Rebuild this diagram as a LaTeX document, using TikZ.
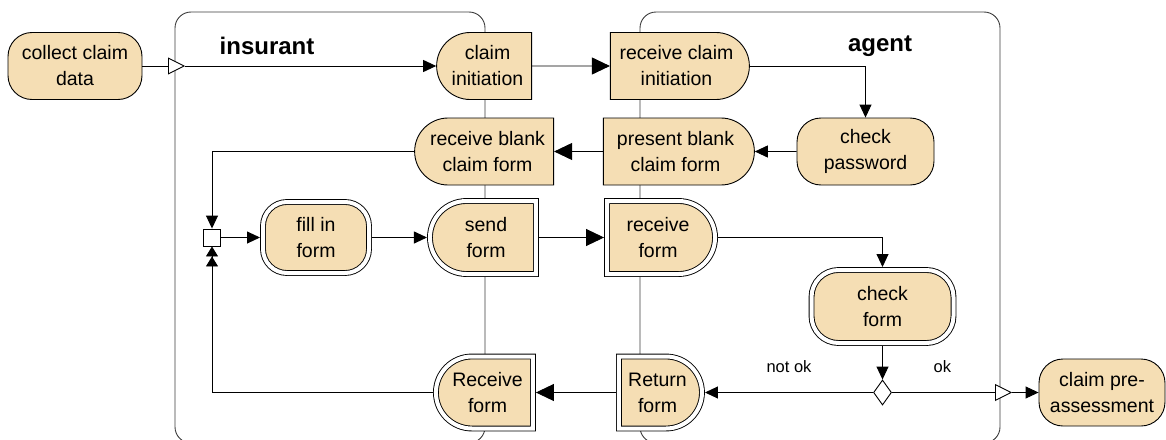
\documentclass[tikz,border=0pt]{standalone}
\usepackage{fontspec}
\setmainfont{Liberation Sans}
\usetikzlibrary{arrows.meta,shapes.misc,shapes.geometric}

\definecolor{actfill}{RGB}{245,222,180}
\definecolor{laneline}{RGB}{60,60,60}

\tikzset{
  lane/.style={draw=laneline, rounded corners=16pt},
  lanelabel/.style={font=\fontsize{24}{28}\selectfont\bfseries},
  guard/.style={font=\fontsize{16.5}{20}\selectfont},
  act/.style={draw, fill=actfill, align=center, inner sep=0pt,
    font=\fontsize{19.5}{26}\selectfont},
  stadium/.style={act, rectangle, rounded corners=24pt},
  roundwest/.style={act, rounded rectangle, rounded rectangle east arc=none},
  roundeast/.style={act, rounded rectangle, rounded rectangle west arc=none},
  dbl/.style={double, double distance=4pt, outer sep=3pt},
  bigarrow/.style={-{Triangle[length=18pt,width=17pt]}},
  medarrow/.style={-{Triangle[length=13pt,width=12pt]}},
  twinarrow/.style={-{Triangle[length=10pt,width=12pt]Triangle[length=10pt,width=12pt]}},
  opentip/.style={-{Triangle[length=17pt,width=17pt,fill=white]}}
}

\begin{document}
\begin{tikzpicture}[x=1pt, y=-1pt, line width=0.9pt]
  \useasboundingbox (0,0) rectangle (1166,439);

  % swimlanes
  \draw[lane] (175,12) rectangle (485,443);
  \draw[lane] (640,12) rectangle (1000,443);
  \node[lanelabel] (insurant) at (267,46) {insurant};
  \node[lanelabel] (agent) at (880,46) {agent};

  % first row
  \node[stadium, minimum width=134pt, minimum height=67pt] (collect) at (75,66) {collect claim\\data};
  \node[roundwest, minimum width=95pt, minimum height=67pt] (claiminit) at (487.5,66) {claim\\initiation};
  \node[roundeast, minimum width=139pt, minimum height=67pt] (rcvinit) at (676.5,66) {receive claim\\initiation};

  % second row
  \node[roundwest, minimum width=139pt, minimum height=67pt] (rcvblank) at (487.5,151.5) {receive blank\\claim form};
  \node[roundeast, minimum width=151pt, minimum height=67pt] (present) at (675.5,151.5) {present blank\\claim form};
  \node[stadium, minimum width=137pt, minimum height=67pt] (checkpw) at (865.5,151.5) {check\\password};

  % third row
  \node[draw, fill=white, minimum size=17pt, inner sep=0pt] (junction) at (212,237.5) {};
  \node[stadium, dbl, minimum width=106pt, minimum height=71pt] (fillin) at (316,237.5) {fill in\\form};
  \node[roundwest, dbl, minimum width=106pt, minimum height=73pt] (sendform) at (486,237.5) {send\\form};
  \node[roundeast, dbl, minimum width=108pt, minimum height=73pt] (rcvform) at (658,237.5) {receive\\form};
  \node[stadium, dbl, rounded corners=27pt, minimum width=142pt, minimum height=73pt] (checkform) at (882.5,306.5) {check\\form};

  % last row
  \node[roundwest, dbl, minimum width=97pt, minimum height=72pt] (backform) at (487.5,392.5) {Receive\\form};
  \node[roundeast, dbl, minimum width=83pt, minimum height=72pt] (returnform) at (657.5,392.5) {Return\\form};
  \node[diamond, draw, fill=white, minimum width=18pt, minimum height=25pt, inner sep=0pt] (decision) at (882.5,392.5) {};
  \node[stadium, minimum width=126pt, minimum height=67pt] (preassess) at (1102,392.5) {claim pre-\\assessment};

  % flows
  \coordinate (inlet) at (185,66);
  \coordinate (outlet) at (1012,392.5);
  \draw[opentip] (collect) -- (inlet);
  \draw[medarrow] (inlet) -- (claiminit);
  \draw[bigarrow] (claiminit) -- (rcvinit);
  \draw[medarrow] (rcvinit) -| (checkpw);
  \draw[medarrow] (checkpw) -- (present);
  \draw[bigarrow] (present) -- (rcvblank);
  \draw[medarrow] (rcvblank) -| (junction);
  \draw[medarrow] (junction) -- (fillin);
  \draw[medarrow] (fillin) -- (sendform);
  \draw[bigarrow] (sendform) -- (rcvform);
  \draw[medarrow] (rcvform) -| (checkform);
  \draw[medarrow] (checkform) -- (decision);
  \draw[medarrow] (decision) -- node[guard, above=16pt] {not ok} (returnform);
  \draw[opentip] (decision) -- node[guard, above=16pt, pos=0.42] {ok} (outlet);
  \draw[medarrow] (outlet) -- (preassess);
  \draw[bigarrow] (returnform) -- (backform);
  \draw[twinarrow] (backform) -| (junction);
\end{tikzpicture}
\end{document}
